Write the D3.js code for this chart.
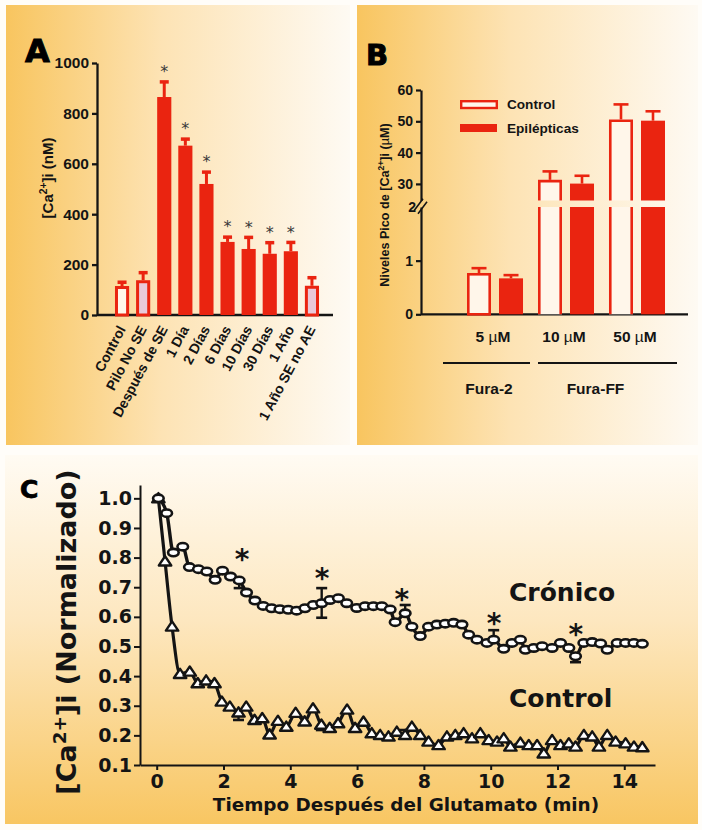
<!DOCTYPE html>
<html>
<head>
<meta charset="utf-8">
<script src="https://cdn.jsdelivr.net/npm/d3@7"></script>
<style>
  body { margin: 0; background: #fffdf9; }
  svg { display: block; }
</style>
</head>
<body>
<svg id="fig" width="702" height="830"></svg>
<script>
// ---------- Panel A: resting [Ca2+]i by group ----------
const catsA   = ["Control", "Pilo No SE", "Después de SE", "1 Día", "2 Días", "6 Días", "10 Días", "30 Días", "1 Año", "1 Año SE no AE"];
const valuesA = [115, 138, 865, 672, 520, 290, 262, 243, 253, 116];
const errA    = [15, 30, 60, 26, 47, 19, 46, 44, 35, 32];
const kindA   = ["control", "noSE", "SE", "SE", "SE", "SE", "SE", "SE", "SE", "noSE"];
const sigA    = [false, false, true, true, true, true, true, true, true, false];
const ticksA  = [0, 200, 400, 600, 800, 1000];

// ---------- Panel B: peak [Ca2+]i by indicator ----------
const concB       = ["5 µM", "10 µM", "50 µM"];
const seriesB     = ["Control", "Epilépticas"];
const controlB    = [0.77, 31.3, 50.6];
const controlErrB = [0.09, 2.7, 4.8];
const epiB        = [0.67, 30.1, 50.2];
const epiErrB     = [0.06, 2.5, 3.0];
const dyeNames    = ["Fura-2", "Fura-FF"];
const dyeConcs    = [["5 µM"], ["10 µM", "50 µM"]];
const ticksBLow   = [0, 1, 2];
const ticksBHigh  = [30, 40, 50, 60];
const breakB      = [2, 24.7];   // lower segment ends at 2, upper starts at 24.7

// ---------- Panel C: normalized [Ca2+]i after glutamate ----------
const timeCron = [0.05, 0.3, 0.5, 0.78, 0.98, 1.25, 1.5, 1.75, 1.97, 2.21, 2.47, 2.69, 2.94, 3.19, 3.44, 3.69, 3.94, 4.19, 4.44, 4.69, 4.94, 5.19, 5.44,
                  5.69, 5.99, 6.24, 6.49, 6.74, 6.99, 7.14, 7.44, 7.64, 7.89, 8.14, 8.39, 8.64, 8.89, 9.14, 9.34, 9.59, 9.89, 10.09, 10.39, 10.64, 10.89,
                  11.04, 11.29, 11.54, 11.84, 12.09, 12.34, 12.54, 12.79, 13.04, 13.29, 13.49, 13.79, 14.04, 14.29, 14.54];
const cronico  = [1.0, 0.95, 0.817, 0.837, 0.768, 0.761, 0.753, 0.725, 0.756, 0.736, 0.723, 0.682, 0.655, 0.637, 0.629, 0.626, 0.624, 0.621, 0.629, 0.64, 0.646, 0.657, 0.663,
                  0.646, 0.63, 0.636, 0.636, 0.636, 0.625, 0.582, 0.612, 0.567, 0.535, 0.567, 0.574, 0.577, 0.58, 0.574, 0.54, 0.523, 0.512, 0.523, 0.492, 0.512, 0.523,
                  0.489, 0.495, 0.501, 0.495, 0.512, 0.495, 0.467, 0.512, 0.515, 0.51, 0.489, 0.512, 0.512, 0.512, 0.509];
const timeCtrl = [0.05, 0.25, 0.46, 0.7, 0.99, 1.23, 1.48, 1.73, 1.95, 2.19, 2.45, 2.68, 2.93, 3.16, 3.38, 3.63, 3.88, 4.16, 4.43, 4.68, 4.93, 5.18, 5.43, 5.7,
                  5.94, 6.19, 6.44, 6.69, 6.94, 7.19, 7.44, 7.64, 7.89, 8.14, 8.44, 8.69, 8.94, 9.19, 9.44, 9.69, 9.94, 10.19, 10.39, 10.59, 10.89, 11.14,
                  11.39, 11.59, 11.84, 12.09, 12.34, 12.54, 12.79, 13.04, 13.24, 13.49, 13.74, 14.04, 14.29, 14.54];
const controlC = [1.0, 0.787, 0.567, 0.407, 0.415, 0.376, 0.385, 0.376, 0.314, 0.297, 0.277, 0.297, 0.252, 0.258, 0.203, 0.249, 0.229, 0.276, 0.247, 0.291, 0.236, 0.225, 0.241, 0.287,
                  0.225, 0.246, 0.207, 0.201, 0.196, 0.212, 0.201, 0.229, 0.201, 0.179, 0.167, 0.196, 0.201, 0.207, 0.19, 0.207, 0.184, 0.179, 0.19, 0.162, 0.175, 0.167,
                  0.167, 0.139, 0.184, 0.167, 0.173, 0.162, 0.201, 0.196, 0.162, 0.201, 0.179, 0.173, 0.162, 0.16];
// error bars: [time, mean, lower, upper]
const errCron  = [[2.47, 0.723, 0.697, 0.723], [4.94, 0.646, 0.597, 0.697], [7.44, 0.612, 0.612, 0.64], [10.09, 0.523, 0.523, 0.555], [12.54, 0.467, 0.447, 0.467]];
const errCtrl  = [[2.45, 0.277, 0.252, 0.277], [4.93, 0.236, 0.218, 0.236], [7.44, 0.201, 0.201, 0.218]];
const starsC   = [[2.56, 0.815], [4.95, 0.753], [7.34, 0.68], [10.1, 0.60], [12.55, 0.562]];
const ticksCx  = [0, 2, 4, 6, 8, 10, 12, 14];
const ticksCy  = [0.1, 0.2, 0.3, 0.4, 0.5, 0.6, 0.7, 0.8, 0.9, 1.0];

const RED = "#ea2410";
const INK = "#141414";
const HELV = "'Liberation Sans', Arial, sans-serif";
const HEAVY = "'DejaVu Sans', sans-serif";

const svg = d3.select("#fig");
const defs = svg.append("defs");

const gH = defs.append("linearGradient").attr("id", "gH").attr("x1", 0).attr("x2", 1).attr("y1", 0).attr("y2", 0);
gH.append("stop").attr("offset", 0).attr("stop-color", "#f8c55f");
gH.append("stop").attr("offset", 0.45).attr("stop-color", "#fde3b4");
gH.append("stop").attr("offset", 1).attr("stop-color", "#fefaf3");

const gV = defs.append("linearGradient").attr("id", "gV").attr("x1", 0).attr("x2", 0).attr("y1", 0).attr("y2", 1);
gV.append("stop").attr("offset", 0).attr("stop-color", "#fffbf3");
gV.append("stop").attr("offset", 0.45).attr("stop-color", "#fde7bf");
gV.append("stop").attr("offset", 1).attr("stop-color", "#f8c662");

// panel backgrounds
svg.append("rect").attr("x", 6).attr("y", 5).attr("width", 344).attr("height", 440).attr("fill", "url(#gH)");
svg.append("rect").attr("x", 357).attr("y", 5).attr("width", 341).attr("height", 440).attr("fill", "url(#gH)");
svg.append("rect").attr("x", 5).attr("y", 455).attr("width", 693).attr("height", 369).attr("fill", "url(#gV)");

function styleAxis(g, size, family, width) {
  g.select(".domain").attr("stroke", INK).attr("stroke-width", width);
  g.selectAll(".tick line").attr("stroke", INK).attr("stroke-width", width);
  g.selectAll(".tick text").attr("font-size", size).attr("font-family", family)
    .attr("font-weight", "bold").attr("fill", INK);
}

function caLabel(sel, size, tail) {
  sel.append("tspan").text("[Ca");
  sel.append("tspan").attr("font-size", size * 0.68).attr("dy", -size * 0.38).text("2+");
  sel.append("tspan").attr("dy", size * 0.38).text(tail);
}

// ================= Panel A =================
const gA = svg.append("g");
const yA = d3.scaleLinear().domain([0, 1000]).range([315, 63]);
const xA = d3.scaleBand().domain(catsA).range([111.5, 322.5]).paddingInner(0.33).paddingOuter(0.165);

const axA = gA.append("g").attr("transform", "translate(97,0)")
  .call(d3.axisLeft(yA).tickValues(ticksA).tickFormat(d3.format("d")).tickSize(5).tickSizeOuter(0).tickPadding(3));
styleAxis(axA, 15.5, HELV, 2.3);

gA.append("line").attr("x1", 97).attr("x2", 333).attr("y1", yA(0)).attr("y2", yA(0))
  .attr("stroke", INK).attr("stroke-width", 2.3);

const barA = gA.selectAll(".barA").data(catsA).join("g");
barA.each(function (c, i) {
  const g = d3.select(this);
  const x = xA(c), w = xA.bandwidth(), v = valuesA[i], e = errA[i], cx = x + w / 2;
  g.append("line").attr("x1", cx).attr("x2", cx).attr("y1", yA(v)).attr("y2", yA(v + e))
    .attr("stroke", RED).attr("stroke-width", 3);
  g.append("line").attr("x1", cx - 4.5).attr("x2", cx + 4.5).attr("y1", yA(v + e)).attr("y2", yA(v + e))
    .attr("stroke", RED).attr("stroke-width", 3.5);
  if (kindA[i] === "SE") {
    g.append("rect").attr("x", x).attr("y", yA(v)).attr("width", w).attr("height", yA(0) - yA(v)).attr("fill", RED);
  } else {
    g.append("rect").attr("x", x + 1.5).attr("y", yA(v) + 1.5).attr("width", w - 3).attr("height", yA(0) - yA(v) - 1.5)
      .attr("fill", kindA[i] === "control" ? "#fff6ea" : "#e9c9d9").attr("stroke", RED).attr("stroke-width", 3);
  }
  if (sigA[i]) {
    g.append("text").attr("x", cx).attr("y", yA(v + e) - 14 + 9.2).attr("text-anchor", "middle")
      .attr("font-family", HEAVY).attr("font-size", 16).attr("fill", "#3a3a3a").text("*");
  }
});

gA.selectAll(".xlA").data(catsA).join("text")
  .attr("transform", d => `translate(${xA(d) + xA.bandwidth() / 2 + 4},${yA(0) + 14}) rotate(-62)`)
  .attr("text-anchor", "end").attr("font-family", HELV).attr("font-weight", "bold")
  .attr("font-size", 14).attr("fill", INK).text(d => d);

const ylA = gA.append("text").attr("transform", "translate(52.5,178) rotate(-90)").attr("text-anchor", "middle")
  .attr("font-family", HELV).attr("font-weight", "bold").attr("font-size", 15).attr("fill", INK);
caLabel(ylA, 15, "]i (nM)");

gA.append("text").attr("x", 25).attr("y", 62).attr("font-family", HEAVY).attr("font-weight", "bold")
  .attr("font-size", 32).attr("fill", "#000").attr("stroke", "#000").attr("stroke-width", 1).text("A");

// ================= Panel B =================
const gB = svg.append("g");
const yLow = d3.scaleLinear().domain([0, breakB[0]]).range([314.3, 207]);
const yHigh = d3.scaleLinear().domain([breakB[1], 60]).range([200.5, 90]);
const xB = d3.scaleBand().domain(concB).range([459.5, 672.5]).paddingInner(0.211).paddingOuter(0.1056);
const xSub = d3.scaleBand().domain(seriesB).range([0, xB.bandwidth()]).paddingInner(0.25);

const axBH = gB.append("g").attr("transform", "translate(421,0)")
  .call(d3.axisLeft(yHigh).tickValues(ticksBHigh).tickFormat(d3.format("d")).tickSize(5).tickSizeOuter(0).tickPadding(3));
styleAxis(axBH, 14, HELV, 2.2);
const axBL = gB.append("g").attr("transform", "translate(421,0)")
  .call(d3.axisLeft(yLow).tickValues(ticksBLow).tickFormat(d3.format("d")).tickSize(5).tickSizeOuter(0).tickPadding(3));
styleAxis(axBL, 14, HELV, 2.2);
axBL.selectAll(".tick").filter(d => d === breakB[0]).select("line").remove();
axBL.selectAll(".tick").filter(d => d === breakB[0]).select("text").attr("x", -5);

// axis break marks
const midBreak = (yHigh(breakB[1]) + yLow(breakB[0])) / 2;
[[-3, 1], [1, 4]].forEach(([dx, dy]) => {
  gB.append("line").attr("x1", 421 + dx - 4).attr("y1", midBreak + dy + 6).attr("x2", 421 + dx + 5).attr("y2", midBreak + dy - 6)
    .attr("stroke", INK).attr("stroke-width", 1.6);
});

gB.append("line").attr("x1", 421).attr("x2", 688).attr("y1", yLow(0)).attr("y2", yLow(0))
  .attr("stroke", INK).attr("stroke-width", 2.3);

function drawBarB(x, w, v, e, hollow) {
  const fill = hollow ? "#fff6ea" : RED;
  const cx = x + w / 2;
  let top;
  if (v <= breakB[0]) {
    top = yLow(v);
    if (hollow) {
      gB.append("rect").attr("x", x + 1.3).attr("y", top + 1.3).attr("width", w - 2.6).attr("height", yLow(0) - top - 1.3)
        .attr("fill", fill).attr("stroke", RED).attr("stroke-width", 2.6);
    } else {
      gB.append("rect").attr("x", x).attr("y", top).attr("width", w).attr("height", yLow(0) - top).attr("fill", fill);
    }
  } else {
    top = yHigh(v);
    const y2 = yLow(breakB[0]), y1 = yHigh(breakB[1]);
    if (hollow) {
      gB.append("rect").attr("x", x).attr("y", y2).attr("width", w).attr("height", yLow(0) - y2).attr("fill", fill);
      gB.append("rect").attr("x", x).attr("y", top).attr("width", w).attr("height", y1 - top).attr("fill", fill);
      const p = d3.path();
      p.moveTo(x + 1.3, y2); p.lineTo(x + 1.3, yLow(0));
      p.moveTo(x + w - 1.3, y2); p.lineTo(x + w - 1.3, yLow(0));
      p.moveTo(x + 1.3, y1); p.lineTo(x + 1.3, top + 1.3); p.lineTo(x + w - 1.3, top + 1.3); p.lineTo(x + w - 1.3, y1);
      gB.append("path").attr("d", p.toString()).attr("fill", "none").attr("stroke", RED).attr("stroke-width", 2.6);
    } else {
      gB.append("rect").attr("x", x).attr("y", y2).attr("width", w).attr("height", yLow(0) - y2).attr("fill", fill);
      gB.append("rect").attr("x", x).attr("y", top).attr("width", w).attr("height", y1 - top).attr("fill", fill);
    }
  }
  const yE = v <= breakB[0] ? yLow(v + e) : yHigh(v + e);
  gB.append("line").attr("x1", cx).attr("x2", cx).attr("y1", top).attr("y2", yE).attr("stroke", RED).attr("stroke-width", 2.6);
  gB.append("line").attr("x1", cx - 7.5).attr("x2", cx + 7.5).attr("y1", yE).attr("y2", yE).attr("stroke", RED).attr("stroke-width", 2.6);
}

concB.forEach((c, i) => {
  drawBarB(xB(c) + xSub("Control"), xSub.bandwidth(), controlB[i], controlErrB[i], true);
  drawBarB(xB(c) + xSub("Epilépticas"), xSub.bandwidth(), epiB[i], epiErrB[i], false);
});

// legend
gB.append("rect").attr("x", 461.2).attr("y", 101.2).attr("width", 35.6).attr("height", 6.8)
  .attr("fill", "#fff6ea").attr("stroke", RED).attr("stroke-width", 2.4);
gB.append("rect").attr("x", 460).attr("y", 124).attr("width", 37).attr("height", 8).attr("fill", RED);
gB.append("text").attr("x", 507).attr("y", 109).attr("font-family", HELV).attr("font-weight", "bold")
  .attr("font-size", 13.6).attr("fill", INK).text(seriesB[0]);
gB.append("text").attr("x", 507).attr("y", 133).attr("font-family", HELV).attr("font-weight", "bold")
  .attr("font-size", 13.6).attr("fill", INK).text(seriesB[1]);

// concentration labels
gB.selectAll(".concB").data(concB).join("text")
  .attr("x", d => xB(d) + xB.bandwidth() / 2 - 2).attr("y", 342).attr("text-anchor", "middle")
  .attr("font-family", HELV).attr("font-weight", "bold").attr("font-size", 15.5).attr("fill", INK)
  .each(function (d) {
    const parts = d.split(" ");
    const t = d3.select(this);
    t.append("tspan").text(parts[0] + " ");
    t.append("tspan").attr("font-weight", "normal").text(parts[1].charAt(0));
    t.append("tspan").text(parts[1].slice(1));
  });

// indicator groups
const dyeSpan = [[443, 530], [538, 677]];
dyeNames.forEach((n, i) => {
  const [a, b] = dyeSpan[i];
  gB.append("line").attr("x1", a).attr("x2", b).attr("y1", 363).attr("y2", 363).attr("stroke", INK).attr("stroke-width", 2);
  const cs = dyeConcs[i];
  const mid = (xB(cs[0]) + xB(cs[cs.length - 1]) + xB.bandwidth()) / 2;
  gB.append("text").attr("x", mid - 6).attr("y", 393.5).attr("text-anchor", "middle").attr("font-family", HELV)
    .attr("font-weight", "bold").attr("font-size", 15.5).attr("fill", INK).text(n);
});

const ylB = gB.append("text").attr("transform", "translate(388.5,205) rotate(-90)").attr("text-anchor", "middle")
  .attr("font-family", HELV).attr("font-weight", "bold").attr("font-size", 12.6).attr("fill", INK);
ylB.append("tspan").text("Niveles Pico de ");
caLabel(ylB, 12.6, "]i (");
ylB.append("tspan").attr("font-weight", "normal").text("µ");
ylB.append("tspan").text("M)");

gB.append("text").attr("x", 366).attr("y", 65).attr("font-family", HEAVY).attr("font-weight", "bold")
  .attr("font-size", 29).attr("fill", "#000").attr("stroke", "#000").attr("stroke-width", 1).text("B");

// ================= Panel C =================
const gC = svg.append("g");
const xC = d3.scaleLinear().domain([-0.5, 14.92]).range([140, 655]);
const yC = d3.scaleLinear().domain([0.1, 1.045]).range([765, 485]);

const axCy = gC.append("g").attr("transform", "translate(140,0)")
  .call(d3.axisLeft(yC).tickValues(ticksCy).tickFormat(d3.format(".1f")).tickSize(6).tickSizeOuter(0).tickPadding(2));
styleAxis(axCy, 19, HEAVY, 2);
const axCx = gC.append("g").attr("transform", `translate(0,${yC(0.1)})`)
  .call(d3.axisBottom(xC).tickValues(ticksCx).tickSize(5).tickSizeOuter(0).tickPadding(5));
styleAxis(axCx, 19, HEAVY, 2);

const cronPts = timeCron.map((t, i) => [t, cronico[i]]);
const ctrlPts = timeCtrl.map((t, i) => [t, controlC[i]]);
const lineC = d3.line().x(d => xC(d[0])).y(d => yC(d[1])).curve(d3.curveMonotoneX);

gC.append("path").attr("d", lineC(ctrlPts)).attr("fill", "none").attr("stroke", INK).attr("stroke-width", 3.2);
gC.append("path").attr("d", lineC(cronPts)).attr("fill", "none").attr("stroke", INK).attr("stroke-width", 3.4);

function errBars(list) {
  list.forEach(([t, m, lo, hi]) => {
    const x = xC(t);
    gC.append("line").attr("x1", x).attr("x2", x).attr("y1", yC(lo)).attr("y2", yC(hi)).attr("stroke", INK).attr("stroke-width", 2.4);
    if (lo < m) gC.append("line").attr("x1", x - 5.5).attr("x2", x + 5.5).attr("y1", yC(lo)).attr("y2", yC(lo)).attr("stroke", INK).attr("stroke-width", 2.6);
    if (hi > m) gC.append("line").attr("x1", x - 5.5).attr("x2", x + 5.5).attr("y1", yC(hi)).attr("y2", yC(hi)).attr("stroke", INK).attr("stroke-width", 2.6);
  });
}
errBars(errCtrl);
errBars(errCron);

gC.selectAll(".tri").data(ctrlPts).join("path")
  .attr("transform", d => `translate(${xC(d[0])},${yC(d[1])})`)
  .attr("d", "M-6.2,4L6.2,4L0,-5.2Z")
  .attr("fill", "#fff").attr("stroke", INK).attr("stroke-width", 2.4).attr("stroke-linejoin", "round");

gC.selectAll(".circ").data(cronPts).join("ellipse")
  .attr("cx", d => xC(d[0])).attr("cy", d => yC(d[1])).attr("rx", 5.3).attr("ry", 3.7)
  .attr("fill", "#fff").attr("stroke", INK).attr("stroke-width", 2.6);

gC.selectAll(".starC").data(starsC).join("text")
  .attr("x", d => xC(d[0])).attr("y", d => yC(d[1]) + 16).attr("text-anchor", "middle")
  .attr("font-family", HEAVY).attr("font-weight", "bold").attr("font-size", 28).attr("fill", INK).text("*");

gC.append("text").attr("x", 509).attr("y", 601).attr("font-family", HEAVY).attr("font-weight", "bold")
  .attr("font-size", 25).attr("fill", INK).text("Crónico");
gC.append("text").attr("x", 509).attr("y", 707).attr("font-family", HEAVY).attr("font-weight", "bold")
  .attr("font-size", 25).attr("fill", INK).text("Control");

gC.append("text").attr("x", 406).attr("y", 811).attr("text-anchor", "middle").attr("font-family", HEAVY)
  .attr("font-weight", "bold").attr("font-size", 18.4).attr("fill", INK).text("Tiempo Después del Glutamato (min)");

const ylC = gC.append("text").attr("transform", "translate(76,632) rotate(-90)").attr("text-anchor", "middle")
  .attr("font-family", HEAVY).attr("font-weight", "bold").attr("font-size", 27).attr("fill", INK);
caLabel(ylC, 27, "]i (Normalizado)");

gC.append("text").attr("x", 20).attr("y", 498).attr("font-family", HEAVY).attr("font-weight", "bold")
  .attr("font-size", 25).attr("fill", "#000").attr("stroke", "#000").attr("stroke-width", 0.8).text("C");
</script>
</body>
</html>
